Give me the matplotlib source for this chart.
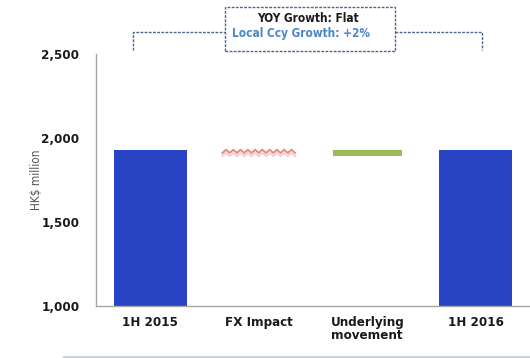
import numpy as np
import matplotlib.pyplot as plt
from matplotlib.lines import Line2D
from matplotlib.patches import Rectangle

plt.rcParams['font.family'] = ['DejaVu Sans']
plt.rcParams['font.stretch'] = 'condensed'

categories = ['1H 2015', 'FX Impact', 'Underlying\nmovement', '1H 2016']
start_value = 1930
fx_impact = -38
underlying = 38
end_value = start_value + fx_impact + underlying

yticks = [1000, 1500, 2000, 2500]

blue = '#2843c4'
green = '#9bbb59'
pink = '#e58a86'
frame = '#4a6590'

fig = plt.figure(figsize=(5.3, 3.58), dpi=100)
W, H = 530, 358
ax = fig.add_axes([96 / W, 1 - 306 / H, 434 / W, 252 / H])

x = np.arange(len(categories))
width = 0.67

# totals
ax.bar(x[0], start_value - 1000, width, bottom=1000, color=blue)
ax.bar(x[3], end_value - 1000, width, bottom=1000, color=blue)

# FX impact drawn as a zigzag band
fx_top = start_value
fx_bot = start_value + fx_impact
zx = np.linspace(x[1] - width / 2, x[1] + width / 2, 21)
mid = (fx_top + fx_bot) / 2
zy = np.where(np.arange(21) % 2 == 0, mid, fx_top)
ax.plot(zx, zy, color=pink, lw=1.4, solid_joinstyle='miter')
zy2 = np.where(np.arange(21) % 2 == 0, fx_bot, mid)
ax.plot(zx, zy2, color=pink, lw=1.2, alpha=0.45)

# underlying movement
ax.bar(x[2], underlying, width * 0.95, bottom=fx_bot, color=green)

ax.set_xlim(-0.5, 3.5)
ax.set_ylim(1000, 2500)
ax.set_yticks(yticks)
ax.set_yticklabels(['{:,}'.format(v) for v in yticks])
ax.set_xticks(x)
ax.set_xticklabels(categories, linespacing=1.0)
ax.tick_params(axis='y', length=0, pad=12, labelsize=9.5, labelcolor='#1a1a1a')
ax.tick_params(axis='x', length=0, pad=7, labelsize=9.5, labelcolor='#1a1a1a')
for lab in ax.get_xticklabels() + ax.get_yticklabels():
    lab.set_fontweight('bold')
for s in ['top', 'right']:
    ax.spines[s].set_visible(False)
for s in ['left', 'bottom']:
    ax.spines[s].set_color('#a6a6a6')
    ax.spines[s].set_linewidth(1.0)

fig.text(37 / W, 1 - 180 / H, 'HK$ million', rotation=90, ha='center',
         va='center', fontsize=8.5, color='#555555')

# growth callout with bracket
def px(xp, yp):
    return xp / W, 1 - yp / H

dash = (0, (2, 1))
for pts in [[(133, 50), (133, 32), (225, 32)], [(395, 32), (482, 32), (482, 50)]]:
    xs, ys = zip(*[px(a, b) for a, b in pts])
    fig.add_artist(Line2D(xs, ys, color=frame, lw=1.0, linestyle=dash))
bx0, by0 = px(225, 51)
bx1, by1 = px(395, 7)
fig.add_artist(Rectangle((bx0, by0), bx1 - bx0, by1 - by0, transform=fig.transFigure,
                         fill=False, edgecolor=frame, lw=1.0, linestyle=dash))
fig.text(*px(308, 19), 'YOY Growth: Flat', ha='center', va='center',
         fontsize=8.5, fontweight='bold', color='#1a1a1a')
fig.text(*px(301, 34), 'Local Ccy Growth: +2%', ha='center', va='center',
         fontsize=8.5, fontweight='bold', color='#4a86c8')

# separator along the bottom
fig.add_artist(Line2D([64 / W, 1], [1 - 357 / H] * 2, color='#d0d4da', lw=1.5))

fig.savefig('out.png', dpi=100)
